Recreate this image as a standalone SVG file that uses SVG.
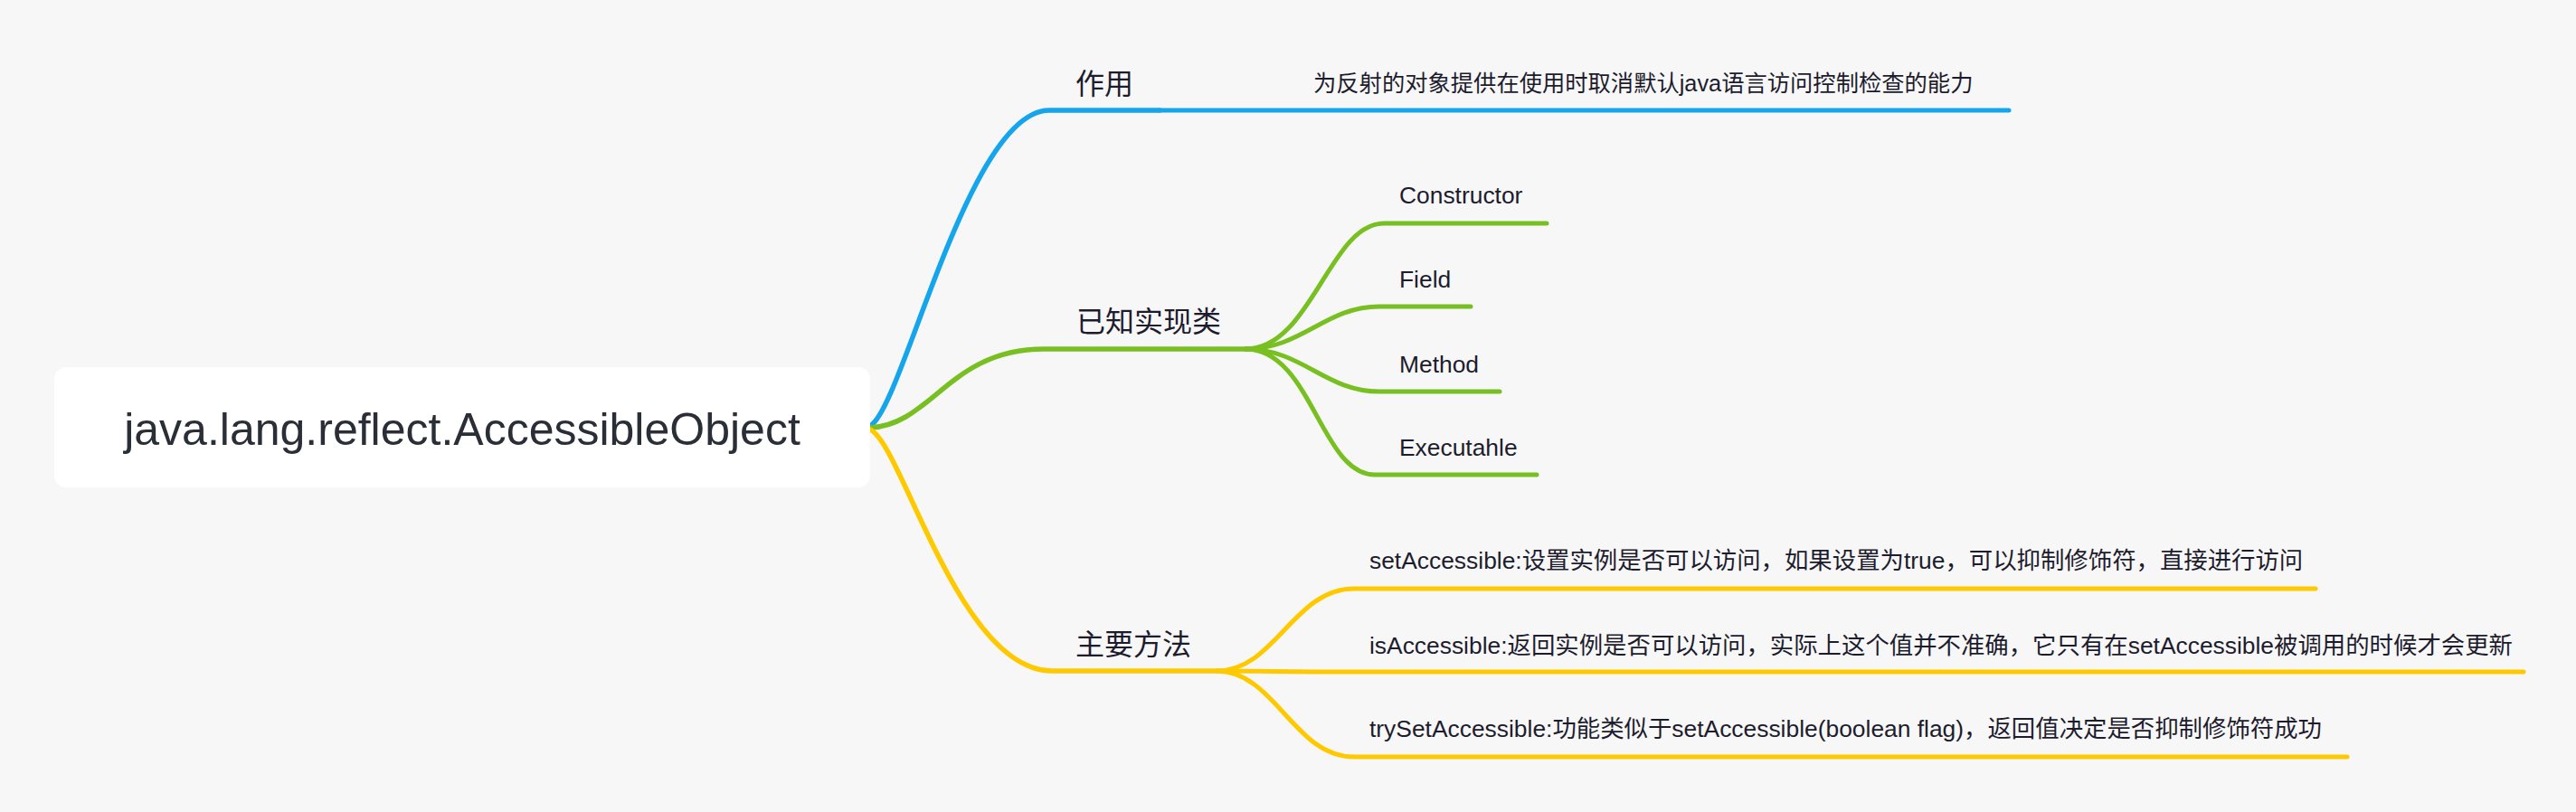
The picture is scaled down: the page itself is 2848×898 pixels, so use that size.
<svg xmlns="http://www.w3.org/2000/svg" width="2848" height="898" viewBox="0 0 2848 898">
<style>
text{font-family:"Liberation Sans","Noto Sans CJK SC",sans-serif;fill:#1d1c2e}
.root{font-size:50px;fill:#2a2e36}
.l1{font-size:32px}
.l2{font-size:26.4px}
.d{font-size:25.3px}
.c{fill:none;stroke-linecap:round;stroke-linejoin:round}
.b{stroke:#14a5ec}
.g{stroke:#78c022}
.y{stroke:#ffc900}
.m{stroke-width:5.5}
.s{stroke-width:5}
</style>
<rect width="2848" height="898" fill="#f7f7f7"/>
<g id="connectors">
<path class="c b m" d="M962,471 C998,452 1070,122 1160,122 L1282,122"/>
<path class="c b s" d="M1282,122 L2221,122"/>
<path class="c g m" d="M962,473 C1030,470 1050,386 1154,386 L1379,386"/>
<path class="c y m" d="M962,475 C997,490 1060,742 1163,742 L1345,742"/>
<path class="c g s" d="M1377,386 C1450,386 1470,247 1530,247 L1710,247"/>
<path class="c g s" d="M1377,386 C1440,386 1465,339 1525,339 L1626,339"/>
<path class="c g s" d="M1377,386 C1440,386 1465,433 1525,433 L1658,433"/>
<path class="c g s" d="M1377,386 C1450,386 1460,525 1520,525 L1699,525"/>
<path class="c y s" d="M1345,742 C1410,742 1430,651 1497,651 L2560,651"/>
<path class="c y s" d="M1345,742 C1400,742 1420,743 1497,743 L2790,743"/>
<path class="c y s" d="M1345,742 C1410,742 1430,837 1497,837 L2595,837"/>
</g>
<g id="root">
<rect x="60" y="406" width="902" height="133" rx="13" fill="#ffffff"/>
<text class="root" x="511" y="492" text-anchor="middle">java.lang.reflect.AccessibleObject</text>
</g>
<g id="n-zuoyong"><text class="l1" x="1189" y="104">作用</text></g>
<g id="n-zuoyong-desc"><text class="d" x="1452" y="101">为反射的对象提供在使用时取消默认java语言访问控制检查的能力</text></g>
<g id="n-impl"><text class="l1" x="1190" y="367">已知实现类</text></g>
<g id="n-constructor"><text class="l2" x="1547" y="225">Constructor</text></g>
<g id="n-field"><text class="l2" x="1547" y="318">Field</text></g>
<g id="n-method"><text class="l2" x="1547" y="412">Method</text></g>
<g id="n-executahle"><text class="l2" x="1547" y="504">Executahle</text></g>
<g id="n-methods"><text class="l1" x="1189" y="724">主要方法</text></g>
<g id="n-set"><text class="l2" x="1514" y="629">setAccessible:设置实例是否可以访问，如果设置为true，可以抑制修饰符，直接进行访问</text></g>
<g id="n-is"><text class="l2" x="1514" y="723">isAccessible:返回实例是否可以访问，实际上这个值并不准确，它只有在setAccessible被调用的时候才会更新</text></g>
<g id="n-try"><text class="l2" x="1514" y="815">trySetAccessible:功能类似于setAccessible(boolean flag)，返回值决定是否抑制修饰符成功</text></g>
</svg>
